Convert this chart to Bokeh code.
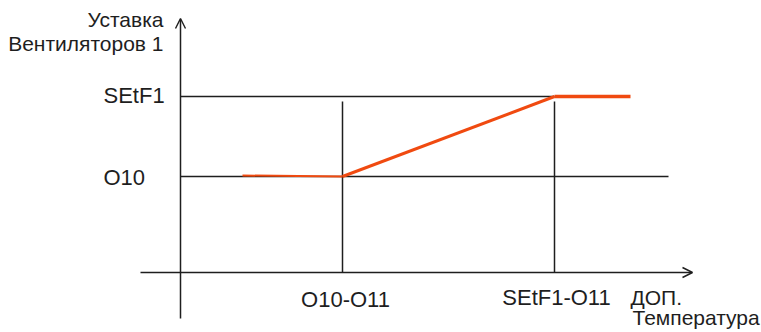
from bokeh.plotting import figure
from bokeh.models import Range1d, Arrow, OpenHead, ColumnDataSource
from bokeh.core.properties import value
from bokeh.embed import file_html
from bokeh.resources import INLINE

# ---- data (diagram units) ----
x_tick_pos = [162, 374]                 # O10-O11, SEtF1-O11
x_tick_labels = ["O10-O11", "SEtF1-O11"]
y_level_pos = [96, 176]                 # O10, SEtF1
y_level_labels = ["O10", "SEtF1"]
curve_x = [62, 162, 374, 450]           # fan set-point curve
curve_y = [97, 96, 176, 176]
x_axis_span = [-40, 512]
y_axis_span = [-46, 254]
o10_line_end = 488
vert_top = 171

INK = "#1e1e1e"
ORANGE = "#F04A10"
FONT = value("Liberation Sans")
TY = 8  # text baseline correction

p = figure(width=761, height=332, output_backend="svg", toolbar_location=None,
           x_range=Range1d(-180, 581), y_range=Range1d(-60, 272),
           min_border=0, outline_line_color=None)
p.axis.visible = False
p.grid.visible = False
p.background_fill_color = "white"

# axes with arrows
p.add_layout(Arrow(end=OpenHead(size=10, line_width=1.4, line_color=INK),
                   x_start=x_axis_span[0], y_start=0, x_end=x_axis_span[1], y_end=0,
                   line_width=1.5, line_color=INK))
p.add_layout(Arrow(end=OpenHead(size=10, line_width=1.4, line_color=INK),
                   x_start=0, y_start=y_axis_span[0], x_end=0, y_end=y_axis_span[1],
                   line_width=1.5, line_color=INK))

# reference lines
p.segment(x0=[0, 0], y0=y_level_pos, x1=[o10_line_end, x_tick_pos[1]], y1=y_level_pos,
          line_color=INK, line_width=1.5)
p.segment(x0=x_tick_pos, y0=[0, 0], x1=x_tick_pos, y1=[vert_top, vert_top],
          line_color=INK, line_width=1.5)

# orange curve
p.line(curve_x[:2], curve_y[:2], line_color=ORANGE, line_width=2)
p.line(curve_x[1:3], curve_y[1:3], line_color=ORANGE, line_width=3)
p.line(curve_x[2:], curve_y[2:], line_color=ORANGE, line_width=3.5)

# labels
left_src = ColumnDataSource(dict(x=[-77, -77], y=[y_level_pos[0] - 9 + TY, y_level_pos[1] - 7 + TY],
                                 t=y_level_labels))
p.text(x="x", y="y", text="t", source=left_src, text_font=FONT, text_font_size="22px",
       text_color=INK, text_align="left", text_baseline="alphabetic")

ylab_src = ColumnDataSource(dict(x=[-17, -17], y=[245 + TY, 221 + TY], t=["Уставка", "Вентиляторов 1"]))
p.text(x="x", y="y", text="t", source=ylab_src, text_font=FONT, text_font_size="21px",
       text_color=INK, text_align="right", text_baseline="alphabetic")

xt_src = ColumnDataSource(dict(x=[x_tick_pos[0] + 3, x_tick_pos[1] + 2], y=[-35 + TY, -33 + TY], t=x_tick_labels))
p.text(x="x", y="y", text="t", source=xt_src, text_font=FONT, text_font_size="22px",
       text_color=INK, text_align="center", text_baseline="alphabetic")

xl_src = ColumnDataSource(dict(x=[450, 452], y=[-33 + TY, -53 + TY], t=["ДОП.", "Температура"]))
p.text(x="x", y="y", text="t", source=xl_src, text_font=FONT, text_font_size="21px",
       text_color=INK, text_align="left", text_baseline="alphabetic")

open("out.html", "w").write(file_html(p, INLINE))
